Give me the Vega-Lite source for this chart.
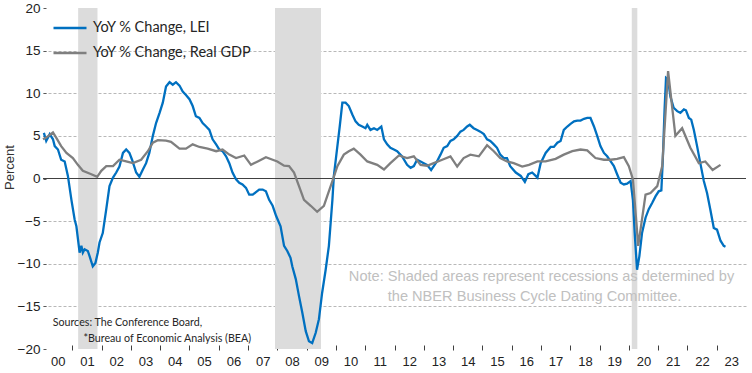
{
  "$schema": "https://vega.github.io/schema/vega-lite/v6.json",
  "width": 703,
  "height": 341,
  "autosize": "none",
  "padding": {"left": 43, "top": 8, "right": 6, "bottom": 24},
  "background": "white",
  "config": {"view": {"stroke": null}},
  "datasets": {
    "recessions": [
      {"start": 2001.2, "end": 2001.86},
      {"start": 2007.92, "end": 2009.49},
      {"start": 2020.1, "end": 2020.29}
    ],
    "lei": [
      {"date": 2000.03, "value": 5.35}, {"date": 2000.11, "value": 4.4}, {"date": 2000.23, "value": 5.2}, {"date": 2000.34, "value": 4.6},
      {"date": 2000.40, "value": 3.8}, {"date": 2000.51, "value": 3.4}, {"date": 2000.62, "value": 2.2}, {"date": 2000.74, "value": 2.0},
      {"date": 2000.85, "value": 0.3}, {"date": 2000.97, "value": -2.5}, {"date": 2001.08, "value": -4.8}, {"date": 2001.14, "value": -5.6},
      {"date": 2001.25, "value": -8.7}, {"date": 2001.31, "value": -7.9}, {"date": 2001.36, "value": -8.7}, {"date": 2001.42, "value": -8.3},
      {"date": 2001.53, "value": -8.5}, {"date": 2001.59, "value": -9.1}, {"date": 2001.70, "value": -10.3}, {"date": 2001.79, "value": -9.9},
      {"date": 2001.87, "value": -8.7}, {"date": 2001.93, "value": -7.5}, {"date": 2002.04, "value": -6.4}, {"date": 2002.16, "value": -3.6},
      {"date": 2002.27, "value": -0.9}, {"date": 2002.39, "value": 0.1}, {"date": 2002.50, "value": 0.7}, {"date": 2002.61, "value": 1.4},
      {"date": 2002.73, "value": 3.0}, {"date": 2002.84, "value": 3.4}, {"date": 2002.95, "value": 3.0}, {"date": 2003.04, "value": 2.2},
      {"date": 2003.18, "value": 0.7}, {"date": 2003.29, "value": 0.2}, {"date": 2003.41, "value": 1.05}, {"date": 2003.52, "value": 1.8},
      {"date": 2003.63, "value": 3.0}, {"date": 2003.75, "value": 5.0}, {"date": 2003.86, "value": 6.5}, {"date": 2003.98, "value": 7.7},
      {"date": 2004.09, "value": 8.9}, {"date": 2004.20, "value": 10.8}, {"date": 2004.32, "value": 11.3}, {"date": 2004.43, "value": 11.0},
      {"date": 2004.54, "value": 11.3}, {"date": 2004.66, "value": 10.9}, {"date": 2004.77, "value": 10.2}, {"date": 2004.88, "value": 9.8},
      {"date": 2005.00, "value": 9.3}, {"date": 2005.11, "value": 8.5}, {"date": 2005.22, "value": 7.3}, {"date": 2005.34, "value": 7.1},
      {"date": 2005.45, "value": 6.5}, {"date": 2005.57, "value": 6.1}, {"date": 2005.68, "value": 5.7}, {"date": 2005.79, "value": 4.6},
      {"date": 2005.91, "value": 4.0}, {"date": 2006.02, "value": 3.4}, {"date": 2006.13, "value": 3.2}, {"date": 2006.25, "value": 2.6},
      {"date": 2006.36, "value": 1.8}, {"date": 2006.47, "value": 0.7}, {"date": 2006.59, "value": -0.1}, {"date": 2006.70, "value": -0.5},
      {"date": 2006.81, "value": -0.7}, {"date": 2006.93, "value": -1.1}, {"date": 2007.04, "value": -1.9}, {"date": 2007.16, "value": -1.9},
      {"date": 2007.27, "value": -1.6}, {"date": 2007.38, "value": -1.3}, {"date": 2007.50, "value": -1.3}, {"date": 2007.61, "value": -1.5},
      {"date": 2007.72, "value": -2.5}, {"date": 2007.84, "value": -3.2}, {"date": 2007.96, "value": -4.4}, {"date": 2008.11, "value": -5.6},
      {"date": 2008.23, "value": -7.9}, {"date": 2008.34, "value": -8.5}, {"date": 2008.45, "value": -9.3}, {"date": 2008.51, "value": -10.3},
      {"date": 2008.63, "value": -11.8}, {"date": 2008.74, "value": -13.8}, {"date": 2008.85, "value": -15.7}, {"date": 2008.97, "value": -17.9},
      {"date": 2009.08, "value": -19.1}, {"date": 2009.19, "value": -19.3}, {"date": 2009.31, "value": -18.1}, {"date": 2009.42, "value": -16.5},
      {"date": 2009.53, "value": -13.4}, {"date": 2009.65, "value": -10.7}, {"date": 2009.76, "value": -7.9}, {"date": 2009.82, "value": -5.2},
      {"date": 2009.88, "value": -2.5}, {"date": 2009.93, "value": 0.3}, {"date": 2010.05, "value": 3.8}, {"date": 2010.13, "value": 6.1},
      {"date": 2010.22, "value": 8.9}, {"date": 2010.33, "value": 8.9}, {"date": 2010.44, "value": 8.5}, {"date": 2010.56, "value": 7.5},
      {"date": 2010.67, "value": 6.7}, {"date": 2010.78, "value": 6.3}, {"date": 2010.90, "value": 6.1}, {"date": 2011.01, "value": 5.9},
      {"date": 2011.07, "value": 6.3}, {"date": 2011.18, "value": 5.7}, {"date": 2011.30, "value": 5.9}, {"date": 2011.41, "value": 5.7},
      {"date": 2011.55, "value": 6.1}, {"date": 2011.64, "value": 4.6}, {"date": 2011.75, "value": 4.0}, {"date": 2011.86, "value": 3.6},
      {"date": 2011.98, "value": 3.4}, {"date": 2012.09, "value": 3.2}, {"date": 2012.26, "value": 2.6}, {"date": 2012.43, "value": 1.6},
      {"date": 2012.55, "value": 1.25}, {"date": 2012.66, "value": 1.45}, {"date": 2012.77, "value": 2.2}, {"date": 2012.89, "value": 2.0},
      {"date": 2013.00, "value": 1.8}, {"date": 2013.11, "value": 1.6}, {"date": 2013.25, "value": 1.0}, {"date": 2013.34, "value": 1.45},
      {"date": 2013.45, "value": 2.0}, {"date": 2013.57, "value": 2.8}, {"date": 2013.68, "value": 3.6}, {"date": 2013.80, "value": 3.8},
      {"date": 2013.91, "value": 4.4}, {"date": 2014.02, "value": 4.6}, {"date": 2014.14, "value": 5.0}, {"date": 2014.25, "value": 5.5},
      {"date": 2014.36, "value": 5.7}, {"date": 2014.48, "value": 6.1}, {"date": 2014.57, "value": 6.3}, {"date": 2014.70, "value": 5.9},
      {"date": 2014.82, "value": 5.7}, {"date": 2014.93, "value": 5.5}, {"date": 2015.05, "value": 5.2}, {"date": 2015.16, "value": 4.6},
      {"date": 2015.27, "value": 4.4}, {"date": 2015.39, "value": 4.0}, {"date": 2015.50, "value": 3.6}, {"date": 2015.61, "value": 2.8},
      {"date": 2015.73, "value": 2.4}, {"date": 2015.84, "value": 2.4}, {"date": 2015.95, "value": 1.45}, {"date": 2016.14, "value": 0.7},
      {"date": 2016.31, "value": 0.3}, {"date": 2016.45, "value": -0.4}, {"date": 2016.57, "value": 0.5}, {"date": 2016.70, "value": 0.7},
      {"date": 2016.82, "value": 0.3}, {"date": 2016.88, "value": 0.1}, {"date": 2016.99, "value": 1.8}, {"date": 2017.16, "value": 3.0},
      {"date": 2017.33, "value": 3.7}, {"date": 2017.44, "value": 3.7}, {"date": 2017.56, "value": 4.2}, {"date": 2017.67, "value": 4.4},
      {"date": 2017.78, "value": 5.7}, {"date": 2017.90, "value": 6.1}, {"date": 2018.01, "value": 6.4}, {"date": 2018.13, "value": 6.7},
      {"date": 2018.24, "value": 6.8}, {"date": 2018.35, "value": 6.8}, {"date": 2018.47, "value": 7.0}, {"date": 2018.58, "value": 7.1},
      {"date": 2018.69, "value": 7.1}, {"date": 2018.81, "value": 6.1}, {"date": 2018.92, "value": 5.0}, {"date": 2019.03, "value": 3.8},
      {"date": 2019.15, "value": 3.0}, {"date": 2019.26, "value": 2.6}, {"date": 2019.38, "value": 2.0}, {"date": 2019.49, "value": 1.45},
      {"date": 2019.60, "value": 0.5}, {"date": 2019.72, "value": -0.5}, {"date": 2019.83, "value": -0.7}, {"date": 2019.94, "value": -0.6},
      {"date": 2020.06, "value": -0.3}, {"date": 2020.14, "value": -2.5}, {"date": 2020.20, "value": -6.4}, {"date": 2020.28, "value": -10.7},
      {"date": 2020.36, "value": -9.1}, {"date": 2020.45, "value": -6.4}, {"date": 2020.57, "value": -4.6}, {"date": 2020.68, "value": -3.6},
      {"date": 2020.80, "value": -2.85}, {"date": 2020.91, "value": -2.1}, {"date": 2021.02, "value": -1.5}, {"date": 2021.11, "value": -1.4},
      {"date": 2021.16, "value": 2.2}, {"date": 2021.22, "value": 8.1}, {"date": 2021.27, "value": 11.8}, {"date": 2021.34, "value": 11.6},
      {"date": 2021.42, "value": 9.6}, {"date": 2021.53, "value": 8.3}, {"date": 2021.65, "value": 7.9}, {"date": 2021.76, "value": 7.7},
      {"date": 2021.88, "value": 8.1}, {"date": 2021.95, "value": 8.0}, {"date": 2022.05, "value": 7.1}, {"date": 2022.13, "value": 6.9},
      {"date": 2022.22, "value": 5.7}, {"date": 2022.33, "value": 3.8}, {"date": 2022.44, "value": 1.8}, {"date": 2022.56, "value": -0.3},
      {"date": 2022.67, "value": -1.7}, {"date": 2022.78, "value": -3.6}, {"date": 2022.90, "value": -5.8}, {"date": 2023.01, "value": -6.0},
      {"date": 2023.13, "value": -7.3}, {"date": 2023.24, "value": -7.9}, {"date": 2023.30, "value": -8.0}
    ],
    "gdp": [
      {"date": 2000.00, "value": 4.6}, {"date": 2000.11, "value": 4.8}, {"date": 2000.34, "value": 5.4}, {"date": 2000.45, "value": 4.8},
      {"date": 2000.62, "value": 3.8}, {"date": 2000.80, "value": 3.0}, {"date": 2001.02, "value": 2.4}, {"date": 2001.19, "value": 1.6},
      {"date": 2001.36, "value": 0.9}, {"date": 2001.65, "value": 0.5}, {"date": 2001.85, "value": 0.2}, {"date": 2001.99, "value": 0.9},
      {"date": 2002.16, "value": 1.45}, {"date": 2002.39, "value": 1.45}, {"date": 2002.61, "value": 2.2}, {"date": 2002.84, "value": 2.0},
      {"date": 2003.07, "value": 1.8}, {"date": 2003.35, "value": 2.2}, {"date": 2003.58, "value": 3.2}, {"date": 2003.75, "value": 4.2},
      {"date": 2003.92, "value": 4.5}, {"date": 2004.20, "value": 4.45}, {"date": 2004.37, "value": 4.3}, {"date": 2004.66, "value": 3.5},
      {"date": 2004.88, "value": 3.5}, {"date": 2005.11, "value": 4.0}, {"date": 2005.34, "value": 3.7}, {"date": 2005.62, "value": 3.5},
      {"date": 2005.91, "value": 3.2}, {"date": 2006.13, "value": 3.4}, {"date": 2006.36, "value": 2.8}, {"date": 2006.59, "value": 2.4},
      {"date": 2006.87, "value": 2.7}, {"date": 2007.10, "value": 1.6}, {"date": 2007.33, "value": 2.0}, {"date": 2007.61, "value": 2.5},
      {"date": 2007.84, "value": 2.2}, {"date": 2008.00, "value": 2.0}, {"date": 2008.23, "value": 1.5}, {"date": 2008.40, "value": 1.45},
      {"date": 2008.57, "value": 0.7}, {"date": 2008.74, "value": -0.9}, {"date": 2008.91, "value": -2.5}, {"date": 2009.14, "value": -3.2},
      {"date": 2009.36, "value": -3.9}, {"date": 2009.59, "value": -3.2}, {"date": 2009.70, "value": -2.1}, {"date": 2009.88, "value": -0.3},
      {"date": 2010.05, "value": 1.45}, {"date": 2010.27, "value": 2.8}, {"date": 2010.44, "value": 3.2}, {"date": 2010.61, "value": 3.5},
      {"date": 2010.84, "value": 2.8}, {"date": 2011.07, "value": 2.0}, {"date": 2011.41, "value": 1.6}, {"date": 2011.64, "value": 1.05},
      {"date": 2011.86, "value": 1.8}, {"date": 2012.15, "value": 2.7}, {"date": 2012.43, "value": 2.4}, {"date": 2012.66, "value": 2.6},
      {"date": 2012.89, "value": 1.6}, {"date": 2013.11, "value": 1.5}, {"date": 2013.34, "value": 1.8}, {"date": 2013.63, "value": 2.2},
      {"date": 2013.91, "value": 2.6}, {"date": 2014.14, "value": 1.4}, {"date": 2014.36, "value": 2.4}, {"date": 2014.59, "value": 2.8},
      {"date": 2014.88, "value": 2.6}, {"date": 2015.16, "value": 3.9}, {"date": 2015.39, "value": 3.2}, {"date": 2015.61, "value": 2.4},
      {"date": 2015.84, "value": 2.0}, {"date": 2016.07, "value": 1.8}, {"date": 2016.36, "value": 1.4}, {"date": 2016.59, "value": 1.6},
      {"date": 2016.88, "value": 2.0}, {"date": 2017.16, "value": 2.0}, {"date": 2017.50, "value": 2.3}, {"date": 2017.78, "value": 2.8},
      {"date": 2018.07, "value": 3.2}, {"date": 2018.35, "value": 3.4}, {"date": 2018.58, "value": 3.3}, {"date": 2018.86, "value": 2.4},
      {"date": 2019.15, "value": 2.2}, {"date": 2019.38, "value": 2.2}, {"date": 2019.60, "value": 2.3}, {"date": 2019.83, "value": 2.5},
      {"date": 2020.00, "value": 1.45}, {"date": 2020.14, "value": -0.1}, {"date": 2020.32, "value": -7.9}, {"date": 2020.57, "value": -1.9},
      {"date": 2020.74, "value": -1.7}, {"date": 2020.97, "value": -0.9}, {"date": 2021.14, "value": 1.45}, {"date": 2021.34, "value": 12.6},
      {"date": 2021.59, "value": 5.0}, {"date": 2021.82, "value": 5.9}, {"date": 2022.10, "value": 3.6}, {"date": 2022.39, "value": 1.8},
      {"date": 2022.61, "value": 2.0}, {"date": 2022.86, "value": 1.0}, {"date": 2023.13, "value": 1.6}
    ]
  },
  "encoding": {
    "x": {
      "type": "quantitative",
      "scale": {"domain": [2000, 2024], "nice": false, "zero": false},
      "axis": {
        "title": null,
        "values": [2000.5, 2001, 2001.5, 2002, 2002.5, 2003, 2003.5, 2004, 2004.5, 2005, 2005.5, 2006, 2006.5, 2007, 2007.5, 2008, 2008.5, 2009, 2009.5, 2010, 2010.5, 2011, 2011.5, 2012, 2012.5, 2013, 2013.5, 2014, 2014.5, 2015, 2015.5, 2016, 2016.5, 2017, 2017.5, 2018, 2018.5, 2019, 2019.5, 2020, 2020.5, 2021, 2021.5, 2022, 2022.5, 2023, 2023.5],
        "labelExpr": "datum.value % 1 === 0 ? '' : ((floor(datum.value) < 2010 ? '0' : '') + (floor(datum.value) - 2000))",
        "tickOpacity": {"condition": {"test": "datum.value % 1 !== 0", "value": 0}, "value": 1},
        "labelOverlap": false,
        "labelFlush": false,
        "domain": false,
        "grid": false,
        "offset": -4,
        "tickSize": 5,
        "tickColor": "#404040",
        "tickWidth": 1,
        "labelPadding": 5,
        "labelFont": "Liberation Sans",
        "labelFontSize": 13,
        "labelColor": "#222222"
      }
    },
    "y": {
      "type": "quantitative",
      "scale": {"domain": [-20, 20], "nice": false},
      "axis": {
        "title": "Percent",
        "titleFont": "Liberation Sans",
        "titleFontSize": 13,
        "titleFontWeight": "normal",
        "titleColor": "#333333",
        "titleX": -37,
        "titleY": 159,
        "titleBaseline": "middle",
        "titleAlign": "center",
        "values": [-20, -15, -10, -5, 0, 5, 10, 15, 20],
        "domain": false,
        "offset": -3,
        "tickSize": 3,
        "tickColor": "#595959",
        "labelPadding": 3,
        "labelFont": "Liberation Sans",
        "labelFontSize": 13.5,
        "labelColor": "#222222",
        "grid": true,
        "gridColor": "#b8b8b8",
        "gridDash": [3, 2],
        "gridWidth": 1,
        "gridOpacity": {"condition": {"test": "abs(datum.value) === 20 || datum.value === 0", "value": 0}, "value": 1}
      }
    }
  },
  "layer": [
    {
      "data": {"name": "recessions"},
      "mark": {"type": "rect", "color": "#dcdcdc"},
      "encoding": {
        "x": {"field": "start", "type": "quantitative"},
        "x2": {"field": "end"}
      }
    },
    {
      "data": {"values": [{}]},
      "mark": {"type": "rule", "color": "#404040", "strokeWidth": 1.2},
      "encoding": {"y": {"datum": 0, "type": "quantitative"}}
    },
    {
      "data": {"name": "lei"},
      "mark": {"type": "line", "strokeWidth": 2.3, "interpolate": "linear"},
      "encoding": {
        "x": {"field": "date", "type": "quantitative"},
        "y": {"field": "value", "type": "quantitative"},
        "color": {
          "datum": "YoY % Change, LEI",
          "type": "nominal",
          "scale": {"domain": ["YoY % Change, LEI", "YoY % Change, Real GDP"], "range": ["#0070c0", "#7f7f7f"]},
          "legend": {
            "title": null,
            "orient": "none",
            "legendX": 9,
            "legendY": 2,
            "padding": 0,
            "symbolType": "stroke",
            "symbolSize": 1089,
            "symbolStrokeWidth": 2.3,
            "labelFont": "Lato",
            "labelFontSize": 14.5,
            "labelColor": "#262626",
            "labelOffset": 5,
            "rowPadding": -8,
            "labelLimit": 400
          }
        }
      }
    },
    {
      "data": {"name": "gdp"},
      "mark": {"type": "line", "strokeWidth": 2.3, "interpolate": "linear"},
      "encoding": {
        "x": {"field": "date", "type": "quantitative"},
        "y": {"field": "value", "type": "quantitative"},
        "color": {"datum": "YoY % Change, Real GDP", "type": "nominal"}
      }
    },
    {
      "data": {"values": [{}]},
      "mark": {"type": "text", "font": "Liberation Sans", "fontSize": 14.6, "color": "#c0c0c0", "align": "center", "baseline": "middle"},
      "encoding": {
        "x": {"datum": 2017.02, "type": "quantitative"},
        "y": {"datum": -11.55, "type": "quantitative"},
        "text": {"value": "Note: Shaded areas represent recessions as determined by"}
      }
    },
    {
      "data": {"values": [{}]},
      "mark": {"type": "text", "font": "Liberation Sans", "fontSize": 14.6, "color": "#c0c0c0", "align": "center", "baseline": "middle"},
      "encoding": {
        "x": {"datum": 2016.78, "type": "quantitative"},
        "y": {"datum": -13.9, "type": "quantitative"},
        "text": {"value": "the NBER Business Cycle Dating Committee."}
      }
    },
    {
      "data": {"values": [{}]},
      "mark": {"type": "text", "font": "Lato", "fontSize": 10.7, "color": "#262626", "align": "left", "baseline": "middle"},
      "encoding": {
        "x": {"datum": 2000.33, "type": "quantitative"},
        "y": {"datum": -16.9, "type": "quantitative"},
        "text": {"value": "Sources: The Conference Board,"}
      }
    },
    {
      "data": {"values": [{}]},
      "mark": {"type": "text", "font": "Lato", "fontSize": 10.7, "color": "#262626", "align": "left", "baseline": "middle"},
      "encoding": {
        "x": {"datum": 2001.38, "type": "quantitative"},
        "y": {"datum": -18.83, "type": "quantitative"},
        "text": {"value": "*Bureau of Economic Analysis (BEA)"}
      }
    }
  ]
}
